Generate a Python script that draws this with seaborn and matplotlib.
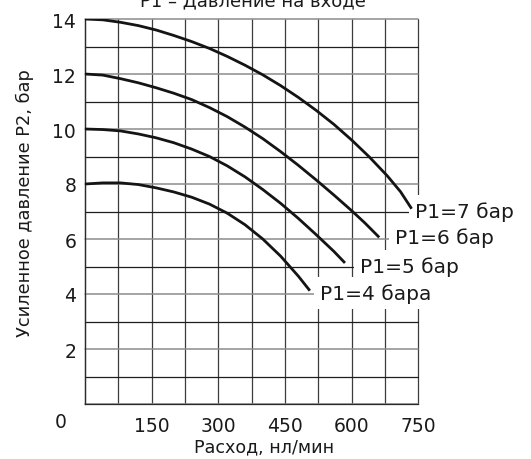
import pandas as pd
import matplotlib
matplotlib.use("Agg")
import matplotlib.pyplot as plt
import seaborn as sns
from matplotlib.ticker import MultipleLocator, FixedLocator

# Boost pressure P2 (bar) against flow (nl/min) for each inlet pressure P1
flow_p7 = [0, 40, 80, 120, 160, 200, 240, 280, 320, 360, 400, 440, 480,
           520, 560, 600, 640, 680, 710, 735]
p2_p7 = [14.0, 13.97, 13.88, 13.76, 13.60, 13.40, 13.18, 12.93, 12.64,
         12.32, 11.97, 11.58, 11.15, 10.68, 10.17, 9.60, 8.98, 8.30,
         7.72, 7.10]

flow_p6 = [0, 40, 80, 120, 160, 200, 240, 280, 320, 360, 400, 440, 480,
           520, 560, 600, 630, 662]
p2_p6 = [12.0, 11.96, 11.83, 11.68, 11.50, 11.30, 11.07, 10.78, 10.45,
         10.07, 9.65, 9.18, 8.68, 8.15, 7.60, 7.03, 6.58, 6.06]

flow_p5 = [0, 40, 80, 120, 160, 200, 240, 280, 320, 360, 400, 440, 480,
           520, 560, 585]
p2_p5 = [10.0, 9.98, 9.93, 9.82, 9.68, 9.50, 9.27, 9.00, 8.66, 8.26,
         7.80, 7.30, 6.75, 6.16, 5.55, 5.13]

flow_p4 = [0, 40, 80, 120, 160, 200, 240, 280, 320, 360, 400, 440, 480,
           506]
p2_p4 = [8.0, 8.04, 8.04, 7.98, 7.86, 7.71, 7.52, 7.27, 6.94, 6.52,
         6.00, 5.38, 4.65, 4.12]

series_names = ["P1=7 бар", "P1=6 бар", "P1=5 бар", "P1=4 бара"]
x_ticks = [0, 150, 300, 450, 600, 750]
x_tick_labels = ["", "150", "300", "450", "600", "750"]
y_ticks = [0, 2, 4, 6, 8, 10, 12, 14]
y_tick_labels = ["", "2", "4", "6", "8", "10", "12", "14"]

flows = [flow_p7, flow_p6, flow_p5, flow_p4]
p2s = [p2_p7, p2_p6, p2_p5, p2_p4]
frames = [pd.DataFrame({"flow": f, "p2": p, "series": n})
          for f, p, n in zip(flows, p2s, series_names)]
df = pd.concat(frames, ignore_index=True)

sns.set_style("white")
plt.rcParams["font.family"] = ["DejaVu Sans"]

W, H = 531, 460
fig = plt.figure(figsize=(W / 100, H / 100), dpi=100)


def fx(px):
    return px / W


def fy(py):
    return 1 - py / H


x0, x1 = 85, 418.3
y0, y1 = 405, 20
ax = fig.add_axes([fx(x0), fy(y0), (x1 - x0) / W, (y0 - y1) / H])

sns.lineplot(data=df, x="flow", y="p2", hue="series", units="series",
             estimator=None, sort=False, palette=["#141414"] * 4,
             linewidth=2.0, legend=False, ax=ax, zorder=4)
for ln in ax.lines:
    ln.set_solid_joinstyle("round")
    ln.set_solid_capstyle("butt")

ax.set_xlim(0, 750)
ax.set_ylim(0, 14)
ax.set_xlabel("")
ax.set_ylabel("")

ax.xaxis.set_major_locator(FixedLocator(x_ticks))
ax.xaxis.set_minor_locator(MultipleLocator(75))
ax.yaxis.set_major_locator(FixedLocator(y_ticks))
ax.yaxis.set_minor_locator(MultipleLocator(1))
ax.set_xticklabels(x_tick_labels)
ax.set_yticklabels(y_tick_labels)

ax.set_axisbelow(True)
ax.grid(which="both", axis="x", color="#3c3c3c", linewidth=0.9)
ax.grid(which="major", axis="y", color="#8c8c8c", linewidth=1.1)
ax.grid(which="minor", axis="y", color="#1e1e1e", linewidth=0.9)

ax.tick_params(axis="x", which="major", direction="out", length=3.6,
               width=0.9, color="#333333", labelsize=13.5, pad=5,
               labelcolor="#1a1a1a")
ax.tick_params(axis="y", which="major", direction="out", length=4.8,
               width=0.9, color="#333333", labelsize=13.5, pad=1.5,
               labelcolor="#1a1a1a")
ax.tick_params(which="minor", length=0)

for side in ["top", "right"]:
    ax.spines[side].set_visible(False)
for side in ["left", "bottom"]:
    ax.spines[side].set_color("#2a2a2a")
    ax.spines[side].set_linewidth(0.9)

for axis in (ax.xaxis, ax.yaxis):
    for t in axis.get_major_ticks() + axis.get_minor_ticks():
        t.gridline.set_clip_on(False)

# series labels next to the curve ends, on white so the grid stops at them
label_offsets = [(3, -2), (16, 0), (15, -3), (10, -2)]
for f, p, name, off in zip(flows, p2s, series_names, label_offsets):
    ax.annotate(name, xy=(f[-1], p[-1]), xytext=off,
                textcoords="offset pixels", ha="left", va="center",
                fontsize=14.5, color="#1a1a1a", zorder=3, annotation_clip=False,
                bbox=dict(boxstyle="square,pad=0.3", fc="white", ec="none"))

# zero of the flow axis sits apart, left of the corner
fig.text(fx(61), fy(423), "0", ha="center", va="center",
         fontsize=13.5, color="#1a1a1a")

fig.text(fx(264), fy(447), "Расход, нл/мин", ha="center", va="center",
         fontsize=12.6, color="#1a1a1a")
fig.text(fx(25), fy(203), "Усиленное давление P2, бар", rotation=90,
         ha="center", va="center", fontsize=12.8, color="#1a1a1a")
fig.text(fx(253), fy(6), "P1 – Давление на входе", ha="center",
         va="baseline", fontsize=13, color="#1a1a1a")

fig.savefig("out.png", dpi=100, facecolor="white")
